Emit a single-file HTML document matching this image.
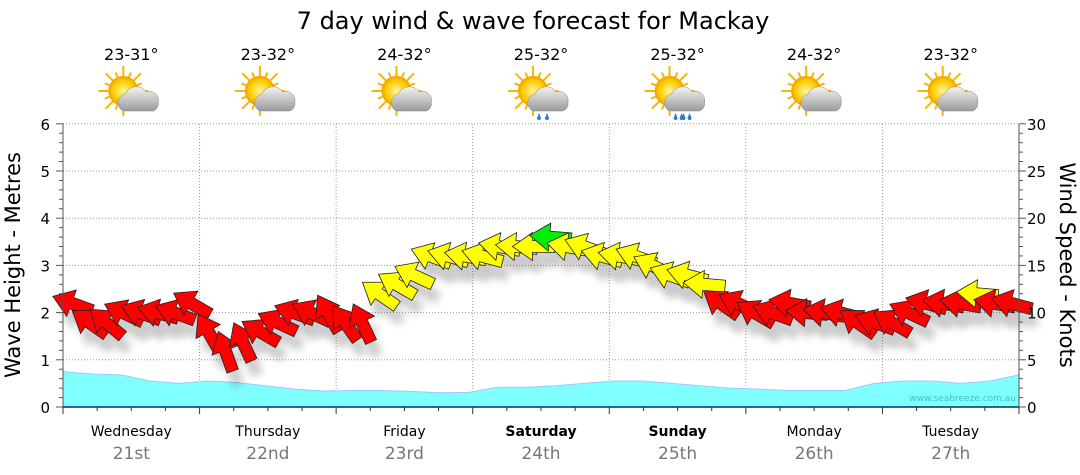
<!DOCTYPE html>
<html><head><meta charset="utf-8"><style>
body{margin:0;background:#fff;font-family:"DejaVu Sans","Liberation Sans",sans-serif}
svg{display:block}
</style></head><body>
<svg id="c" width="1080" height="475" xmlns="http://www.w3.org/2000/svg">
<defs>
<radialGradient id="sun" cx="0.5" cy="0.5" r="0.5"><stop offset="0" stop-color="#fff3a0"/><stop offset="0.7" stop-color="#ffcc00"/><stop offset="1" stop-color="#f0a000"/></radialGradient>
<linearGradient id="cloud" x1="0" y1="0" x2="0" y2="1"><stop offset="0" stop-color="#f4f4f4"/><stop offset="1" stop-color="#9a9a9a"/></linearGradient>
<filter id="sh" x="-20%" y="-20%" width="140%" height="160%"><feGaussianBlur stdDeviation="4"/></filter>
</defs>
<text x="533" y="29" font-size="24" text-anchor="middle" fill="#000">7 day wind &amp; wave forecast for Mackay</text>
<g id="grid"></g><g id="wave"></g><g id="shadow" opacity="0.2"></g><g id="arrows"></g><g id="axes"></g><g id="top"></g>
<text x="20" y="265" font-size="21" text-anchor="middle" transform="rotate(-90 20 265)">Wave Height - Metres</text>
<text x="1060" y="265" font-size="21" text-anchor="middle" transform="rotate(90 1060 265)">Wind Speed - Knots</text>
<text x="1016" y="401" font-size="9" text-anchor="end" fill="#3fbfd0">www.seabreeze.com.au</text>
</svg>
<script>
const days=["Wednesday","Thursday","Friday","Saturday","Sunday","Monday","Tuesday"];
const dates=["21st","22nd","23rd","24th","25th","26th","27th"];
const temps=["23-31°","23-32°","24-32°","25-32°","25-32°","24-32°","23-32°"];
const rainy=[0,0,0,1,2,0,0];
const waveHeights=[0.75,0.7,0.68,0.55,0.5,0.55,0.52,0.45,0.38,0.34,0.35,0.35,0.33,0.3,0.31,0.42,0.42,0.45,0.5,0.55,0.55,0.5,0.45,0.4,0.38,0.35,0.35,0.35,0.5,0.55,0.55,0.5,0.55,0.68];
const windSpeed=[11,9,9,10,10,10,10,11, 8,6,7,8,9,10,10,10, 9,9,12,13,14,16,16,16, 16,17,17,17,18,17,17,16, 16,16,15,14,14,13,11,11, 10,10,11,10,10,10,9,9, 9,10,11,11,11,12,11,11];
const windDir=[200,215,220,205,200,195,200,210, 240,250,245,210,205,200,205,240, 235,245,215,210,205,200,195,190, 195,190,185,180,185,190,200,195, 190,200,205,200,195,185,215,205, 210,200,190,185,190,195,215,200, 210,205,195,190,190,185,190,195];
const X0=63,X1=1019,Y0=407,PX=47.2;
const xs=t=>X0+(X1-X0)*t;
const yW=m=>Y0-m*PX, yK=k=>Y0-k*PX/5;
const NS="http://www.w3.org/2000/svg";
function mk(tag,attrs,parent){const e=document.createElementNS(NS,tag);for(const k in attrs)e.setAttribute(k,attrs[k]);parent.appendChild(e);return e;}
const g=document.getElementById('grid'),ax=document.getElementById('axes'),wv=document.getElementById('wave'),ar=document.getElementById('arrows'),sd=document.getElementById('shadow'),tp=document.getElementById('top');
for(let m=1;m<=6;m++){const l=mk('line',{x1:X0,x2:X1,y1:yW(m),y2:yW(m),stroke:'#999','stroke-dasharray':'1,2'},g);}
for(let d=1;d<7;d++){const x=xs(d/7);const l=mk('line',{x1:x,x2:x,y1:124,y2:Y0,stroke:'#999','stroke-dasharray':'1,2'},g);}
let p='M'+X0+','+Y0;waveHeights.forEach((h,i)=>{p+=' L'+xs(i/(waveHeights.length-1)).toFixed(1)+','+yW(h).toFixed(1);});p+=' L'+X1+','+Y0+' Z';
const wa=mk('path',{d:p,fill:'#80ffff',stroke:'#a0c8ff','stroke-width':1},wv);

mk('line',{x1:X0,x2:X0,y1:124,y2:Y0,stroke:'#555'},ax);mk('line',{x1:X1,x2:X1,y1:124,y2:Y0,stroke:'#555'},ax);
mk('line',{x1:X0,x2:X1,y1:Y0,y2:Y0,stroke:'#003060','stroke-width':1.5},ax);
for(let m=0;m<=6;m++){const t=mk('text',{x:50,y:yW(m)+6,'font-size':15,'text-anchor':'end'},ax);t.textContent=m;}
for(let k=0;k<=30;k+=5){const t=mk('text',{x:1027,y:yK(k)+6,'font-size':15},ax);t.textContent=k;}
for(let i=0;i<=30;i++){const y=Y0-i*PX/5;mk('line',{x1:X0-(i%5?4:7),x2:X0,y1:y,y2:y,stroke:'#555'},ax);mk('line',{x1:X1,x2:X1+(i%5?4:7),y1:y,y2:y,stroke:'#555'},ax);}
for(let i=0;i<=28;i++){const x=xs(i/28);mk('line',{x1:x,x2:x,y1:Y0,y2:Y0+(i%4?4:7),stroke:'#333'},ax);}
days.forEach((d,i)=>{const cx=xs((i+0.5)/7);const bold=(i==3||i==4);
 const t=mk('text',{x:cx,y:436,'font-size':14,'text-anchor':'middle','font-weight':bold?'bold':'normal'},ax);t.textContent=d;
 const t2=mk('text',{x:cx,y:459,'font-size':17,'text-anchor':'middle',fill:'#777'},ax);t2.textContent=dates[i];
 const t3=mk('text',{x:cx,y:60,'font-size':16,'text-anchor':'middle'},tp);t3.textContent=temps[i];
 const ic=mk('g',{transform:`translate(${cx},97)`},tp);
 for(let r=0;r<16;r++){const a=r*Math.PI/8;mk('line',{x1:-8+Math.cos(a)*14,y1:-6+Math.sin(a)*14,x2:-8+Math.cos(a)*(r%2?20:25),y2:-6+Math.sin(a)*(r%2?20:25),stroke:'#f5b800','stroke-width':2},ic);}
 mk('circle',{cx:-8,cy:-6,r:15,fill:'url(#sun)'},ic);
 mk('path',{d:'M-8,14 a9,9 0 0 1 2,-17 a12,12 0 0 1 21,-2 a9,9 0 0 1 12,10 a8,8 0 0 1 -5,9 Z',fill:'url(#cloud)',stroke:'#888','stroke-width':0.5},ic);
 for(let r=0;r<rainy[i];r++){mk('path',{d:`M${-2+r*6},16 l-2,5 a2,2 0 0 0 4,0 Z`,fill:'#2a7fd0'},ic);mk('path',{d:`M${6+r*6},16 l-2,5 a2,2 0 0 0 4,0 Z`,fill:'#2a7fd0'},ic);}
});
const N=windSpeed.length;
const ad='M20,0 L0,-14 L0,-6 L-22,-6 L-22,6 L0,6 L0,14 Z';
windSpeed.forEach((s,i)=>{const x=xs((i+0.5)/N),y=yK(s);const col=s>=18?'#00ee00':s>=12?'#ffff00':'#ff0000';
 mk('path',{d:ad,fill:'#000',filter:'url(#sh)',transform:`translate(${x+6},${y+14}) rotate(${windDir[i]})`},sd);
 const a=mk('path',{d:ad,fill:col,stroke:'#222','stroke-width':0.8,transform:`translate(${x},${y}) rotate(${windDir[i]})`},ar);
 
});
</script>
</body></html>
